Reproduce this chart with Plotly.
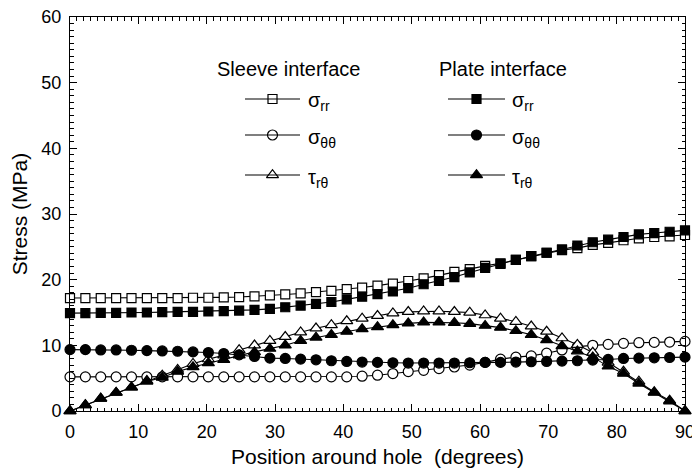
import plotly.graph_objects as go

# ---------------- data ----------------
angle_deg = [0, 2.25, 4.5, 6.75, 9, 11.25, 13.5, 15.75, 18, 20.25,
             22.5, 24.75, 27, 29.25, 31.5, 33.75, 36, 38.25, 40.5, 42.75,
             45, 47.25, 49.5, 51.75, 54, 56.25, 58.5, 60.75, 63, 65.25,
             67.5, 69.75, 72, 74.25, 76.5, 78.75, 81, 83.25, 85.5, 87.75, 90]

sleeve_srr = [17.2, 17.2, 17.2, 17.2, 17.2, 17.2, 17.2, 17.2, 17.25, 17.25,
              17.3, 17.35, 17.45, 17.6, 17.75, 17.9, 18.1, 18.3, 18.55, 18.8,
              19.1, 19.4, 19.8, 20.2, 20.7, 21.2, 21.6, 22.1, 22.5, 23.0,
              23.6, 24.1, 24.5, 24.8, 25.3, 25.6, 26.0, 26.3, 26.5, 26.6, 26.8]

sleeve_stt = [5.2, 5.2, 5.2, 5.2, 5.2, 5.2, 5.2, 5.2, 5.2, 5.2,
              5.2, 5.2, 5.2, 5.2, 5.2, 5.2, 5.2, 5.2, 5.2, 5.3,
              5.45, 5.7, 6.0, 6.2, 6.45, 6.7, 7.0, 7.4, 7.9, 8.2,
              8.4, 8.8, 9.3, 9.8, 10.0, 10.15, 10.3, 10.4, 10.45, 10.5, 10.6]

sleeve_trt = [0.0, 0.9, 1.9, 2.8, 3.6, 4.6, 5.4, 6.3, 7.2, 7.9,
              8.5, 9.3, 10.0, 10.7, 11.3, 12.0, 12.6, 13.1, 13.7, 14.1,
              14.5, 14.9, 15.1, 15.2, 15.2, 15.1, 15.0, 14.6, 14.1, 13.6,
              12.9, 12.1, 11.1, 10.1, 8.9, 7.4, 6.0, 4.5, 2.9, 1.6, 0.0]

plate_srr = [14.9, 14.9, 14.95, 14.95, 15.0, 15.0, 15.05, 15.1, 15.1, 15.15,
             15.2, 15.3, 15.4, 15.55, 15.8, 16.05, 16.3, 16.6, 17.0, 17.4,
             17.8, 18.2, 18.7, 19.3, 19.8, 20.4, 21.1, 21.8, 22.4, 23.0,
             23.6, 24.1, 24.6, 25.2, 25.7, 26.1, 26.5, 26.9, 27.1, 27.3, 27.5]

plate_stt = [9.35, 9.35, 9.3, 9.3, 9.25, 9.2, 9.15, 9.1, 9.0, 8.9,
             8.75, 8.55, 8.3, 8.05, 8.0, 7.9, 7.8, 7.65, 7.55, 7.45,
             7.4, 7.35, 7.3, 7.3, 7.3, 7.3, 7.35, 7.4, 7.4, 7.45,
             7.5, 7.55, 7.6, 7.65, 7.75, 7.85, 8.0, 8.05, 8.1, 8.15, 8.2]

plate_trt = [0.0, 0.9, 1.9, 2.8, 3.6, 4.5, 5.1, 6.0, 6.7, 7.3,
             7.8, 8.5, 9.0, 9.5, 10.0, 10.7, 11.2, 11.6, 12.1, 12.5,
             12.8, 13.1, 13.35, 13.5, 13.5, 13.45, 13.3, 13.0, 12.7, 12.2,
             11.6, 10.8, 9.9, 9.1, 8.2, 6.8, 5.7, 4.2, 2.8, 1.5, 0.0]

x_title = "Position around hole \u00a0(degrees)"
y_title = "Stress (MPa)"
group_titles = ["Sleeve interface", "Plate interface"]
series_labels = ["σ<sub>rr</sub>", "σ<sub>θθ</sub>", "τ<sub>rθ</sub>"]

# ---------------- styling ----------------
FONT = "Arial, 'Liberation Sans', Helvetica, sans-serif"
BLACK = "black"

sleeve_series = [sleeve_srr, sleeve_stt, sleeve_trt]
plate_series = [plate_srr, plate_stt, plate_trt]
symbols = ["square", "circle", "triangle-up"]
sizes = [9, 10, 10.5]

fig = go.Figure()

def add_series(y, symbol, size, filled):
    fig.add_trace(go.Scatter(
        x=angle_deg, y=y, mode="lines+markers",
        line=dict(color=BLACK, width=1.1),
        marker=dict(symbol=symbol, size=size,
                    color=BLACK if filled else "white",
                    line=dict(color=BLACK, width=1.2)),
        cliponaxis=False, showlegend=False, hoverinfo="skip"))

for y, sym, sz in zip(sleeve_series, symbols, sizes):
    add_series(y, sym, sz, False)
for y, sym, sz in zip(plate_series, symbols, sizes):
    add_series(y, sym, sz, True)

# ---------------- hand-drawn legend (paper coordinates) ----------------
W, H = 692, 474
ML, MR, MT, MB = 70, 7, 17, 63
pw, ph = W - ML - MR, H - MT - MB

def px_to_paper(px, py):
    return (px - ML) / pw, (H - MB - py) / ph

row_py = [99, 135, 175]
columns = [
    dict(title_px=215, line=(245, 300), label_px=306, filled=False),
    dict(title_px=437, line=(448, 505), label_px=510, filled=True),
]
annotations = []
shapes = []
for col, gtitle in zip(columns, group_titles):
    tx, ty = px_to_paper(col["title_px"], 69)
    annotations.append(dict(x=tx, y=ty, xref="paper", yref="paper",
                            text=gtitle, showarrow=False, xanchor="left",
                            yanchor="middle",
                            font=dict(family=FONT, size=20, color=BLACK)))
    for i, py in enumerate(row_py):
        x0, yy = px_to_paper(col["line"][0], py)
        x1, _ = px_to_paper(col["line"][1], py)
        shapes.append(dict(type="line", xref="paper", yref="paper",
                           x0=x0, x1=x1, y0=yy, y1=yy,
                           line=dict(color=BLACK, width=1.1)))
        mx, my = px_to_paper((col["line"][0] + col["line"][1]) / 2, py)
        lx, ly = px_to_paper(col["label_px"], py)
        annotations.append(dict(x=lx, y=ly, xref="paper", yref="paper",
                                text=series_labels[i], showarrow=False,
                                xanchor="left", yanchor="middle", yshift=-3,
                                font=dict(family=FONT, size=20, color=BLACK)))
        fig.add_trace(go.Scatter(
            x=[mx], y=[my], xaxis="x2", yaxis="y2", mode="markers",
            marker=dict(symbol=symbols[i], size=sizes[i],
                        color=BLACK if col["filled"] else "white",
                        line=dict(color=BLACK, width=1.2)),
            showlegend=False, hoverinfo="skip", cliponaxis=False))

axis_common = dict(
    showline=True, linecolor=BLACK, linewidth=1, mirror="allticks",
    ticks="inside", ticklen=7, tickwidth=1, tickcolor=BLACK,
    showgrid=False, zeroline=False, ticklabeloverflow="allow",
    tickfont=dict(family=FONT, size=18, color=BLACK),
)

fig.update_layout(
    width=W, height=H,
    margin=dict(l=ML, r=MR, t=MT, b=MB, autoexpand=False),
    paper_bgcolor="white", plot_bgcolor="white",
    font=dict(family=FONT, color=BLACK),
    xaxis=dict(range=[0, 90], dtick=10, tick0=0,
               minor=dict(dtick=1, ticks="inside", ticklen=3.5, tickcolor=BLACK),
               title=dict(text=x_title, standoff=8,
                          font=dict(family=FONT, size=21, color=BLACK)),
               ticklabelstandoff=4,
               **axis_common),
    yaxis=dict(range=[0, 60], dtick=10, tick0=0,
               minor=dict(dtick=1, ticks="inside", ticklen=3.5, tickcolor=BLACK),
               title=dict(text=y_title, standoff=8,
                          font=dict(family=FONT, size=21, color=BLACK)),
               ticklabelstandoff=4,
               **axis_common),
    xaxis2=dict(range=[0, 1], overlaying="x", visible=False, domain=[0, 1]),
    yaxis2=dict(range=[0, 1], overlaying="y", visible=False, anchor="x2"),
    annotations=annotations,
    shapes=shapes,
)

fig.write_html(
    "out.html",
    config={"displayModeBar": False},
    post_script="document.body.style.margin='0';document.body.style.padding='0';",
)
